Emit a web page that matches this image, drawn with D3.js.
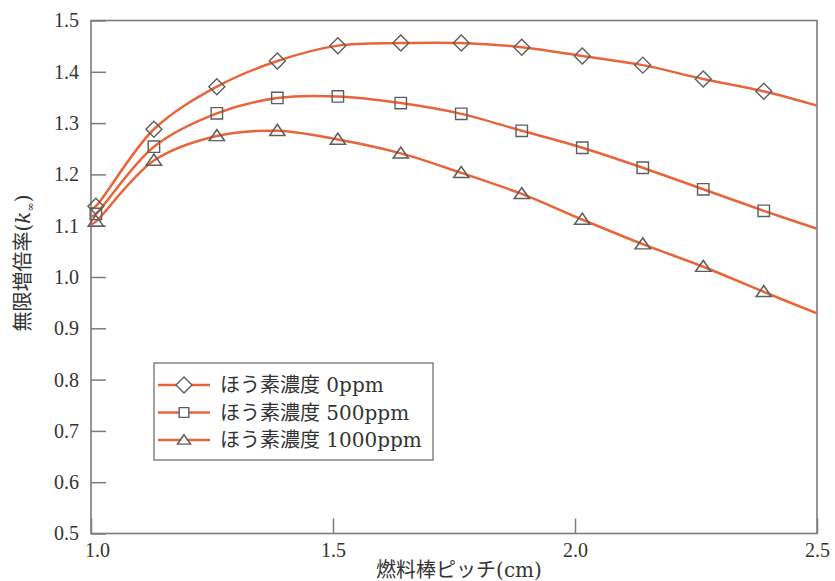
<!DOCTYPE html>
<html>
<head>
<meta charset="utf-8">
<script src="https://cdn.jsdelivr.net/npm/d3@7"></script>
<style>
  html, body { margin: 0; padding: 0; background: #fff; }
  svg { display: block; }
  .tick text { font-family: "Liberation Serif", "DejaVu Serif", serif; font-size: 20px; fill: #333; }
</style>
</head>
<body>
<svg id="chart" width="835" height="581"></svg>
<script>
// Fuel rod pitch (cm) at which k-infinity was evaluated
const pitch = [1.01, 1.13, 1.26, 1.385, 1.51, 1.64, 1.765, 1.89, 2.015, 2.14, 2.265, 2.39];

// k-infinity for each boron concentration
const kBoron0    = [1.138, 1.288, 1.371, 1.421, 1.451, 1.456, 1.456, 1.448, 1.431, 1.413, 1.386, 1.362];
const kBoron500  = [1.123, 1.254, 1.319, 1.349, 1.352, 1.339, 1.318, 1.285, 1.252, 1.213, 1.171, 1.129];
const kBoron1000 = [1.108, 1.227, 1.275, 1.285, 1.268, 1.241, 1.203, 1.162, 1.112, 1.064, 1.020, 0.971];

// Fitted curves run across the full pitch range; values at the ends
const curveStartX = 1.0;
const curveEndX = 2.5;
const curveStart = [1.132, 1.117, 1.102];
const curveEnd   = [1.334, 1.094, 0.929];

const seriesNames = ["ほう素濃度 0ppm", "ほう素濃度 500ppm", "ほう素濃度 1000ppm"];
const seriesSymbols = ["diamond", "square", "triangle"];

const xTicks = [1.0, 1.5, 2.0, 2.5];
const yTicks = [0.5, 0.6, 0.7, 0.8, 0.9, 1.0, 1.1, 1.2, 1.3, 1.4, 1.5];

const xTitle = "燃料棒ピッチ(cm)";
const yTitle = "無限増倍率";

const allSeries = [kBoron0, kBoron500, kBoron1000].map((vals, i) => ({
  name: seriesNames[i],
  symbol: seriesSymbols[i],
  points: pitch.map((p, j) => ({ x: p, y: vals[j] })),
  curve: [{ x: curveStartX, y: curveStart[i] }]
    .concat(pitch.map((p, j) => ({ x: p, y: vals[j] })))
    .concat([{ x: curveEndX, y: curveEnd[i] }])
}));

const svg = d3.select("#chart");
const plotLeft = 91, plotRight = 817, plotTop = 20.5, plotBottom = 533.5;

const x = d3.scaleLinear().domain([1.0, 2.5]).range([plotLeft, plotRight]);
const y = d3.scaleLinear().domain([0.5, 1.5]).range([plotBottom, plotTop]);

const lineColor = "#e8653a";
const markColor = "#5e5e5e";
const frameColor = "#7c7c7c";
const textFont = "'DejaVu Serif', 'Noto Sans CJK JP', serif";

// Axes with inward ticks
const yAxis = svg.append("g")
  .attr("transform", `translate(${plotLeft},0)`)
  .call(d3.axisLeft(y).tickValues(yTicks).tickFormat(d3.format(".1f"))
    .tickSizeInner(-15).tickSizeOuter(0).tickPadding(12));
yAxis.select(".domain").remove();
yAxis.selectAll(".tick line").attr("stroke", frameColor).attr("stroke-width", 1.5);

const xAxis = svg.append("g")
  .attr("transform", `translate(0,${plotBottom})`)
  .call(d3.axisBottom(x).tickValues(xTicks).tickFormat(d3.format(".1f"))
    .tickSizeInner(-15).tickSizeOuter(0).tickPadding(9));
xAxis.select(".domain").remove();
xAxis.selectAll(".tick line").attr("stroke", frameColor).attr("stroke-width", 1.5);
xAxis.selectAll(".tick text").filter(d => d === 1.0).attr("dx", 6);

// Plot frame
svg.append("rect")
  .attr("x", plotLeft).attr("y", plotTop)
  .attr("width", plotRight - plotLeft).attr("height", plotBottom - plotTop)
  .attr("fill", "none").attr("stroke", frameColor).attr("stroke-width", 1.6);

// Symbol generators
const symbolPath = {
  diamond: d3.symbol().type(d3.symbolSquare).size(128),
  square: d3.symbol().type(d3.symbolSquare).size(130),
  triangle: d3.symbol().type(d3.symbolTriangle).size(70)
};
function drawMarker(g, sym, cx, cy, fill, k = 1) {
  const p = g.append("path")
    .attr("d", symbolPath[sym]())
    .attr("fill", fill)
    .attr("stroke", markColor)
    .attr("stroke-width", 1.4 / k);
  if (sym === "diamond") p.attr("transform", `translate(${cx},${cy}) rotate(45) scale(${k})`);
  else if (sym === "triangle") p.attr("transform", `translate(${cx},${cy + 1}) scale(${1.2 * k},${k})`);
  else p.attr("transform", `translate(${cx},${cy}) scale(${k})`);
}

const line = d3.line()
  .x(d => x(d.x)).y(d => y(d.y))
  .curve(d3.curveCatmullRom.alpha(0.5));

const plot = svg.append("g");
allSeries.forEach(s => {
  plot.append("path")
    .datum(s.curve)
    .attr("d", line)
    .attr("fill", "none")
    .attr("stroke", lineColor)
    .attr("stroke-width", 2.5);
});
allSeries.forEach(s => {
  const g = plot.append("g");
  s.points.forEach(p => drawMarker(g, s.symbol, x(p.x), y(p.y), "none"));
});

// Legend
const legend = svg.append("g");
legend.append("rect")
  .attr("x", 154).attr("y", 363).attr("width", 279).attr("height", 97)
  .attr("fill", "#fff").attr("stroke", frameColor).attr("stroke-width", 1.4);
allSeries.forEach((s, i) => {
  const cy = 385 + i * 27.5;
  legend.append("line")
    .attr("x1", 158).attr("x2", 210).attr("y1", cy).attr("y2", cy)
    .attr("stroke", lineColor).attr("stroke-width", 2.4);
  drawMarker(legend, s.symbol, 184, cy, "#fff", s.symbol === "diamond" ? 1 : 0.85);
  legend.append("text")
    .attr("x", 220).attr("y", cy + 7)
    .attr("font-family", textFont)
    .attr("font-size", 20)
    .attr("fill", "#333")
    .text(s.name);
});

// Axis titles
svg.append("text")
  .attr("x", (plotLeft + plotRight) / 2 + 5).attr("y", 577)
  .attr("text-anchor", "middle")
  .attr("font-family", textFont)
  .attr("font-size", 20)
  .attr("fill", "#333")
  .text(xTitle);

const yt = svg.append("text")
  .attr("transform", "translate(30,263) rotate(-90)")
  .attr("text-anchor", "middle")
  .attr("font-family", textFont)
  .attr("font-size", 20)
  .attr("fill", "#333");
yt.append("tspan").text(yTitle + "(");
yt.append("tspan").attr("font-style", "italic").text("k");
yt.append("tspan").attr("font-size", 11).attr("dy", 4).text("∞");
yt.append("tspan").attr("dy", -4).text(")");
</script>
</body>
</html>
